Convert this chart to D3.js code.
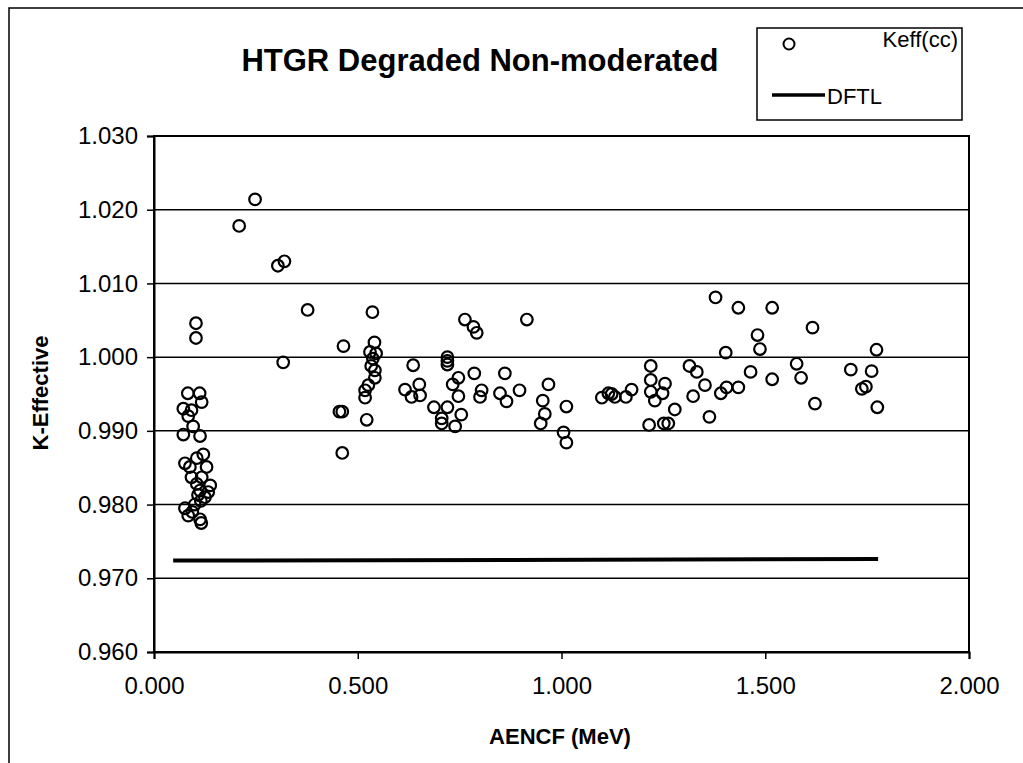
<!DOCTYPE html>
<html>
<head>
<meta charset="utf-8">
<script src="https://cdn.jsdelivr.net/npm/d3@7"></script>
<style>
  html, body { margin: 0; padding: 0; background: #fff; }
  svg { display: block; font-family: "Liberation Sans", Arial, sans-serif; }
</style>
</head>
<body>
<svg id="chart" width="1023" height="763"></svg>
<script>
const chartTitle = "HTGR Degraded Non-moderated";
const xTitle = "AENCF (MeV)";
const yTitle = "K-Effective";
const legendLabels = ["Keff(cc)", "DFTL"];

const xTicks = [0, 0.5, 1.0, 1.5, 2.0];
const yTicks = [0.960, 0.970, 0.980, 0.990, 1.000, 1.010, 1.020, 1.030];

const keffX = [
  0.103, 0.103,
  0.083, 0.112, 0.117, 0.072, 0.092, 0.084, 0.096, 0.072, 0.113,
  0.121, 0.105, 0.076, 0.088, 0.129, 0.092, 0.117, 0.105, 0.138, 0.113, 0.133, 0.108,
  0.076, 0.094, 0.084, 0.115, 0.125, 0.113, 0.116, 0.100,
  0.209, 0.248, 0.304, 0.320, 0.317, 0.377,
  0.465, 0.455, 0.462, 0.462,
  0.536, 0.541, 0.530, 0.545, 0.537, 0.533, 0.542, 0.542, 0.526, 0.518, 0.518, 0.522,
  0.636, 0.616, 0.632, 0.651, 0.653,
  0.687, 0.706, 0.706,
  0.720, 0.720, 0.720, 0.720,
  0.733, 0.739, 0.747, 0.747, 0.754,
  0.763, 0.784, 0.792, 0.786, 0.804, 0.800,
  0.849, 0.861, 0.865, 0.897, 0.915,
  0.954, 0.959, 0.949, 0.968,
  1.005, 1.012, 1.012,
  1.099, 1.115, 1.123, 1.131, 1.158, 1.172,
  1.219, 1.219, 1.219, 1.229, 1.215, 1.248, 1.254, 1.251, 1.262, 1.278,
  1.314, 1.332, 1.323, 1.352, 1.363, 1.378, 1.391, 1.403, 1.405,
  1.434, 1.434, 1.464, 1.481, 1.487, 1.517, 1.517,
  1.577, 1.588, 1.616, 1.622, 1.710, 1.737, 1.747, 1.761, 1.773, 1.775
];
const keffY = [
  1.0046, 1.0026,
  0.9951, 0.9951, 0.9939, 0.9930, 0.9928, 0.9920, 0.9906, 0.9895, 0.9893,
  0.9868, 0.9863, 0.9856, 0.9851, 0.9851, 0.9837, 0.9837, 0.9828, 0.9826, 0.9819, 0.9817, 0.9813,
  0.9795, 0.9790, 0.9785, 0.9805, 0.9810, 0.9780, 0.9775, 0.9800,
  1.0178, 1.0214, 1.0124, 1.0130, 0.9993, 1.0064,
  1.0015, 0.9926, 0.9926, 0.9870,
  1.0061, 1.0020, 1.0007, 1.0005, 0.9998, 0.9988, 0.9982, 0.9972, 0.9962, 0.9955, 0.9945, 0.9915,
  0.9989, 0.9956, 0.9946, 0.9963, 0.9948,
  0.9932, 0.9917, 0.9910,
  1.0000, 0.9995, 0.9990, 0.9932,
  0.9963, 0.9906, 0.9972, 0.9947, 0.9922,
  1.0051, 1.0041, 1.0033, 0.9978, 0.9955, 0.9946,
  0.9951, 0.9978, 0.9940, 0.9955, 1.0051,
  0.9941, 0.9923, 0.9910, 0.9963,
  0.9898, 0.9933, 0.9884,
  0.9945, 0.9951, 0.9950, 0.9946, 0.9946, 0.9956,
  0.9988, 0.9969, 0.9953, 0.9941, 0.9908, 0.9951, 0.9964, 0.9910, 0.9910, 0.9929,
  0.9988, 0.9980, 0.9947, 0.9962, 0.9919, 1.0081, 0.9951, 1.0006, 0.9959,
  1.0067, 0.9959, 0.9980, 1.0030, 1.0011, 1.0067, 0.9970,
  0.9991, 0.9972, 1.0040, 0.9937, 0.9983, 0.9957, 0.9960, 0.9981, 1.0010, 0.9932
];
const dftlX = [0.047, 1.777];
const dftlY = [0.9724, 0.9726];

const svg = d3.select("#chart");
const W = 1023, H = 763;
const plot = {left: 154, right: 969, top: 136, bottom: 652};

const x = d3.scaleLinear().domain([0, 2]).range([plot.left, plot.right]);
const y = d3.scaleLinear().domain([0.960, 1.030]).range([plot.bottom, plot.top]);

// outer frame (partially visible)
svg.append("path")
  .attr("d", `M9,${H + 10} V8 H${W + 10}`)
  .attr("fill", "none").attr("stroke", "#000").attr("stroke-width", 1.5);

// gridlines
svg.append("g").selectAll("line").data(yTicks).join("line")
  .attr("x1", plot.left).attr("x2", plot.right)
  .attr("y1", d => y(d)).attr("y2", d => y(d))
  .attr("stroke", "#000").attr("stroke-width", 1.5);

// plot border
svg.append("rect")
  .attr("x", plot.left).attr("y", plot.top)
  .attr("width", plot.right - plot.left).attr("height", plot.bottom - plot.top)
  .attr("fill", "none").attr("stroke", "#000").attr("stroke-width", 2);

// axes
const xAxis = d3.axisBottom(x).tickValues(xTicks).tickFormat(d3.format(".3f")).tickSizeOuter(0).tickSize(7).tickPadding(18);
const yAxis = d3.axisLeft(y).tickValues(yTicks).tickFormat(d3.format(".3f")).tickSizeOuter(0).tickSize(7).tickPadding(9);

const gx = svg.append("g").attr("transform", `translate(0,${plot.bottom})`).call(xAxis);
const gy = svg.append("g").attr("transform", `translate(${plot.left},0)`).call(yAxis);
[gx, gy].forEach(g => {
  g.select(".domain").attr("stroke", "#000").attr("stroke-width", 2);
  g.selectAll(".tick line").attr("stroke", "#000").attr("stroke-width", 1.5);
  g.selectAll(".tick text").attr("fill", "#000").attr("font-size", 24)
    .attr("font-family", "'Liberation Sans', Arial, sans-serif");
});

// DFTL line
const line = d3.line().x(d => x(d[0])).y(d => y(d[1]));
svg.append("path")
  .datum(dftlX.map((v, i) => [v, dftlY[i]]))
  .attr("d", line)
  .attr("fill", "none").attr("stroke", "#000").attr("stroke-width", 4);

// Keff points
svg.append("g").selectAll("circle").data(keffX.map((v, i) => [v, keffY[i]])).join("circle")
  .attr("cx", d => x(d[0])).attr("cy", d => y(d[1])).attr("r", 5.8)
  .attr("fill", "none").attr("stroke", "#000").attr("stroke-width", 2.2);

// title
svg.append("text").attr("x", 480).attr("y", 71).attr("text-anchor", "middle")
  .attr("font-size", 31).attr("font-weight", "bold").attr("fill", "#000")
  .text(chartTitle);

// axis titles
svg.append("text").attr("x", 560).attr("y", 744).attr("text-anchor", "middle")
  .attr("font-size", 22).attr("font-weight", "bold").attr("fill", "#000")
  .text(xTitle);
svg.append("text").attr("transform", "translate(48,393) rotate(-90)").attr("text-anchor", "middle")
  .attr("font-size", 22).attr("font-weight", "bold").attr("fill", "#000")
  .text(yTitle);

// legend
const lg = svg.append("g");
lg.append("rect").attr("x", 757).attr("y", 28).attr("width", 205).attr("height", 92)
  .attr("fill", "#fff").attr("stroke", "#000").attr("stroke-width", 1.5);
lg.append("circle").attr("cx", 789).attr("cy", 44).attr("r", 5.5)
  .attr("fill", "none").attr("stroke", "#000").attr("stroke-width", 2);
lg.append("text").attr("x", 958).attr("y", 47).attr("text-anchor", "end")
  .attr("font-size", 22).attr("fill", "#000").text(legendLabels[0]);
lg.append("line").attr("x1", 772).attr("x2", 825).attr("y1", 95).attr("y2", 95)
  .attr("stroke", "#000").attr("stroke-width", 3.5);
lg.append("text").attr("x", 827).attr("y", 104)
  .attr("font-size", 22).attr("fill", "#000").text(legendLabels[1]);
</script>
</body>
</html>
